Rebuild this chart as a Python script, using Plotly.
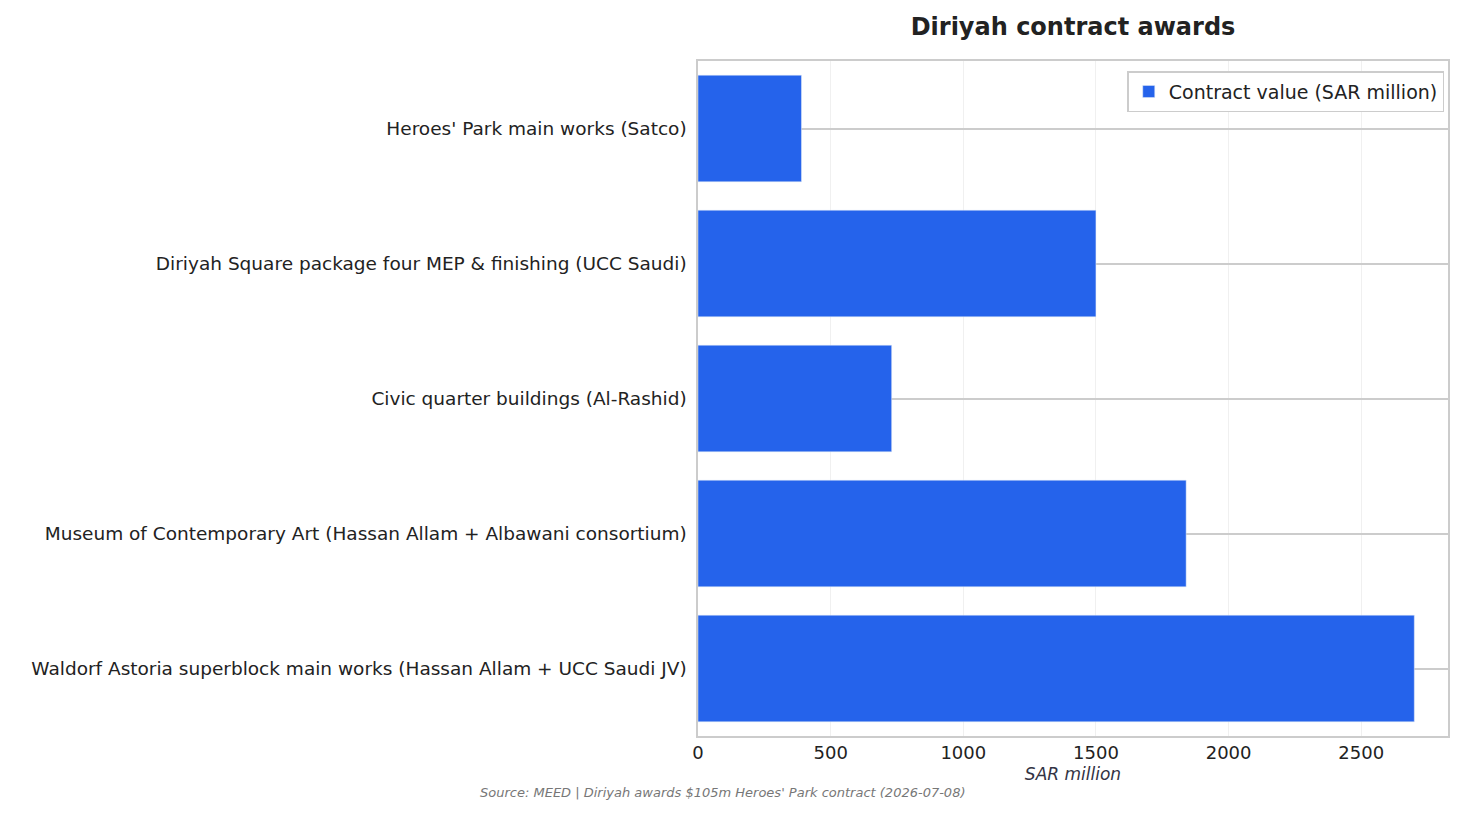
import plotly.graph_objects as go

categories = ["Waldorf Astoria superblock main works (Hassan Allam + UCC Saudi JV)",
              "Museum of Contemporary Art (Hassan Allam + Albawani consortium)",
              "Civic quarter buildings (Al-Rashid)",
              "Diriyah Square package four MEP & finishing (UCC Saudi)",
              "Heroes' Park main works (Satco)"]
values = [2700, 1840, 730, 1500, 390]

W, H = 1449, 808
L, R, T, B = 690, 7, 53, 80
fig = go.Figure(go.Bar(y=categories, x=values, orientation="h", marker_color="#2563eb",
                       name="Contract value (SAR million)", showlegend=True))
fig.update_layout(
    width=W, height=H, plot_bgcolor="white", paper_bgcolor="white",
    font=dict(family="DejaVu Sans", size=17, color="#222"),
    title=dict(text="<b>Diriyah contract awards</b>", x=(1074-8-L)/(W-L-R), xref="paper", xanchor="center",
               y=1-19/H, yanchor="middle", font=dict(size=24)),
    margin=dict(l=L, r=R, t=T, b=B),
    bargap=0.21,
    legend=dict(x=0.995, y=0.985, xanchor="right", yanchor="top", bordercolor="#ccc", borderwidth=1.5,
                font=dict(size=19)),
    annotations=[dict(text="<i>Source: MEED | Diriyah awards $105m Heroes' Park contract (2026-07-08)</i>",
                      x=(723-8-L)/(W-L-R), xref="paper", xanchor="center",
                      y=-(792-8-T-(H-T-B))/(H-T-B), yref="paper", yanchor="middle", showarrow=False,
                      font=dict(size=13, color="#777"))],
)
fig.update_xaxes(range=[0, 2827], dtick=500, showgrid=True, gridcolor="#f0f0f0", zeroline=False,
                 showline=True, linecolor="#ccc", linewidth=1.5, mirror=True, ticks="",
                 title=dict(text="<i>SAR million</i>", font=dict(size=17, color="#334"), standoff=6),
                 tickfont=dict(size=18))
fig.update_yaxes(showgrid=True, gridcolor="#ccc", gridwidth=1.5, showline=True, linecolor="#ccc",
                 linewidth=1.5, mirror=True, ticks="", ticksuffix=" ", tickfont=dict(size=18.5))
fig.write_html("out.html")
